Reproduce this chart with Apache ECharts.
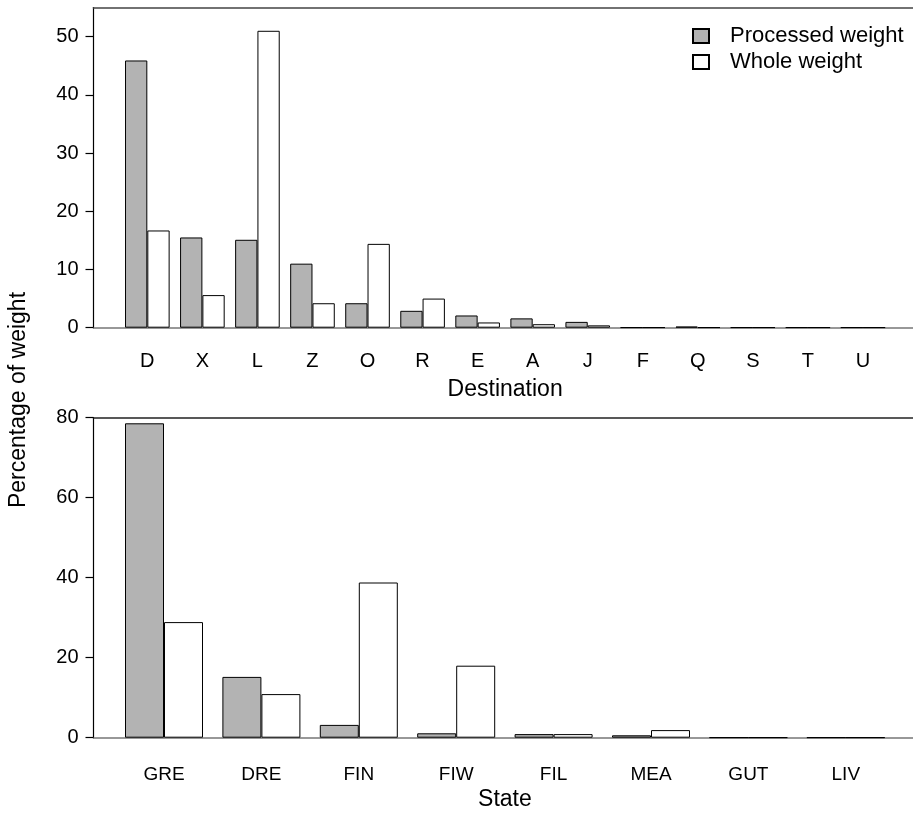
<!DOCTYPE html>
<html>
<head>
<meta charset="utf-8">
<script src="https://cdn.jsdelivr.net/npm/echarts@6/dist/echarts.min.js"></script>
<style>
  html, body { margin: 0; padding: 0; background: #fff; }
  #main { width: 913px; height: 814px; }
</style>
</head>
<body>
<div id="main"></div>
<script>
// data
var destinations = ['D', 'X', 'L', 'Z', 'O', 'R', 'E', 'A', 'J', 'F', 'Q', 'S', 'T', 'U'];
var destProcessed = [45.9, 15.5, 15.1, 11.0, 4.2, 2.9, 2.1, 1.6, 1.0, 0.05, 0.2, 0.05, 0.05, 0.05];
var destWhole = [16.7, 5.6, 51.0, 4.2, 14.4, 5.0, 0.9, 0.6, 0.4, 0.05, 0.05, 0.05, 0.05, 0.05];

var states = ['GRE', 'DRE', 'FIN', 'FIW', 'FIL', 'MEA', 'GUT', 'LIV'];
var stateProcessed = [78.6, 15.2, 3.2, 1.1, 0.9, 0.6, 0.05, 0.05];
var stateWhole = [28.9, 10.9, 38.8, 18.0, 0.9, 1.9, 0.05, 0.05];

var topTicks = [0, 10, 20, 30, 40, 50];
var bottomTicks = [0, 20, 40, 60, 80];

var FONT = "'Liberation Sans', Arial, sans-serif";
var grayFill = '#b3b3b3';

var myChart = echarts.init(document.getElementById('main'));

// frame lines (top border and baseline) running across the whole panel
function frameX(grid, pos, color, width) {
    return {
        gridIndex: grid, type: 'value', position: pos, min: 0, max: 1,
        axisLine: { show: true, lineStyle: { color: color, width: width } },
        axisTick: { show: false }, axisLabel: { show: false }, splitLine: { show: false }
    };
}

function frameY(grid, max, ticks) {
    return {
        gridIndex: grid, type: 'value', min: 0, max: max,
        axisLine: { show: true, lineStyle: { color: '#000', width: 1.2 } },
        axisTick: { show: true, length: 8, customValues: ticks, lineStyle: { color: '#000', width: 1.2 } },
        axisLabel: { customValues: ticks, margin: 15, fontSize: 20, fontFamily: FONT, color: '#000' },
        splitLine: { show: false }
    };
}

function catX(grid, data, name, labelMargin, labelSize) {
    return {
        gridIndex: grid, type: 'category', data: data,
        axisLine: { show: false }, axisTick: { show: false },
        axisLabel: { margin: labelMargin, fontSize: labelSize, fontFamily: FONT, color: '#000', interval: 0 },
        name: name, nameLocation: 'middle', nameGap: 50,
        nameTextStyle: { fontSize: 23, fontFamily: FONT, color: '#000' }
    };
}

function bar(name, data, x, y, fill, w) {
    return {
        name: name, type: 'bar', data: data, xAxisIndex: x, yAxisIndex: y,
        barWidth: w, barGap: '0%',
        itemStyle: { color: fill, borderColor: '#000', borderWidth: 1 },
        emphasis: { disabled: true }
    };
}

var option = {
    animation: false,
    backgroundColor: '#fff',
    legend: {
        orient: 'vertical', left: 687, top: 20,
        itemWidth: 16, itemHeight: 14, itemGap: 4,
        icon: 'rect',
        textStyle: { fontSize: 22, fontFamily: FONT, color: '#000', padding: [0, 0, 0, 16] },
        data: ['Processed weight', 'Whole weight']
    },
    grid: [
        // data grids
        { left: 119.8, right: 22.5, top: 7.5, height: 320.2 },
        { left: 115.3, right: 18.5, top: 417.7, height: 320 },
        // frames
        { left: 93.5, width: 830, top: 7.5, height: 320.2 },
        { left: 93.5, width: 830, top: 417.7, height: 320 }
    ],
    xAxis: [
        catX(0, destinations, 'Destination', 24, 20),
        catX(1, states, 'State', 28, 19),
        frameX(2, 'bottom', '#777', 1.5),
        frameX(2, 'top', '#444', 1.5),
        frameX(3, 'bottom', '#777', 1.5),
        frameX(3, 'top', '#222', 1.5)
    ],
    yAxis: [
        { gridIndex: 0, type: 'value', min: 0, max: 55, show: false },
        { gridIndex: 1, type: 'value', min: 0, max: 80, show: false },
        frameY(2, 55, topTicks),
        frameY(3, 80, bottomTicks)
    ],
    graphic: [{
        type: 'text', x: 19, y: 400, rotation: Math.PI / 2,
        style: {
            text: 'Percentage of weight', fontSize: 23, fontFamily: FONT, fill: '#000',
            align: 'center', verticalAlign: 'middle'
        }
    }],
    series: [
        bar('Processed weight', destProcessed, 0, 0, grayFill, 22.3),
        bar('Whole weight', destWhole, 0, 0, '#fff', 22.3),
        bar('Processed weight', stateProcessed, 1, 1, grayFill, 39),
        bar('Whole weight', stateWhole, 1, 1, '#fff', 39)
    ]
};

myChart.setOption(option);
</script>
</body>
</html>
